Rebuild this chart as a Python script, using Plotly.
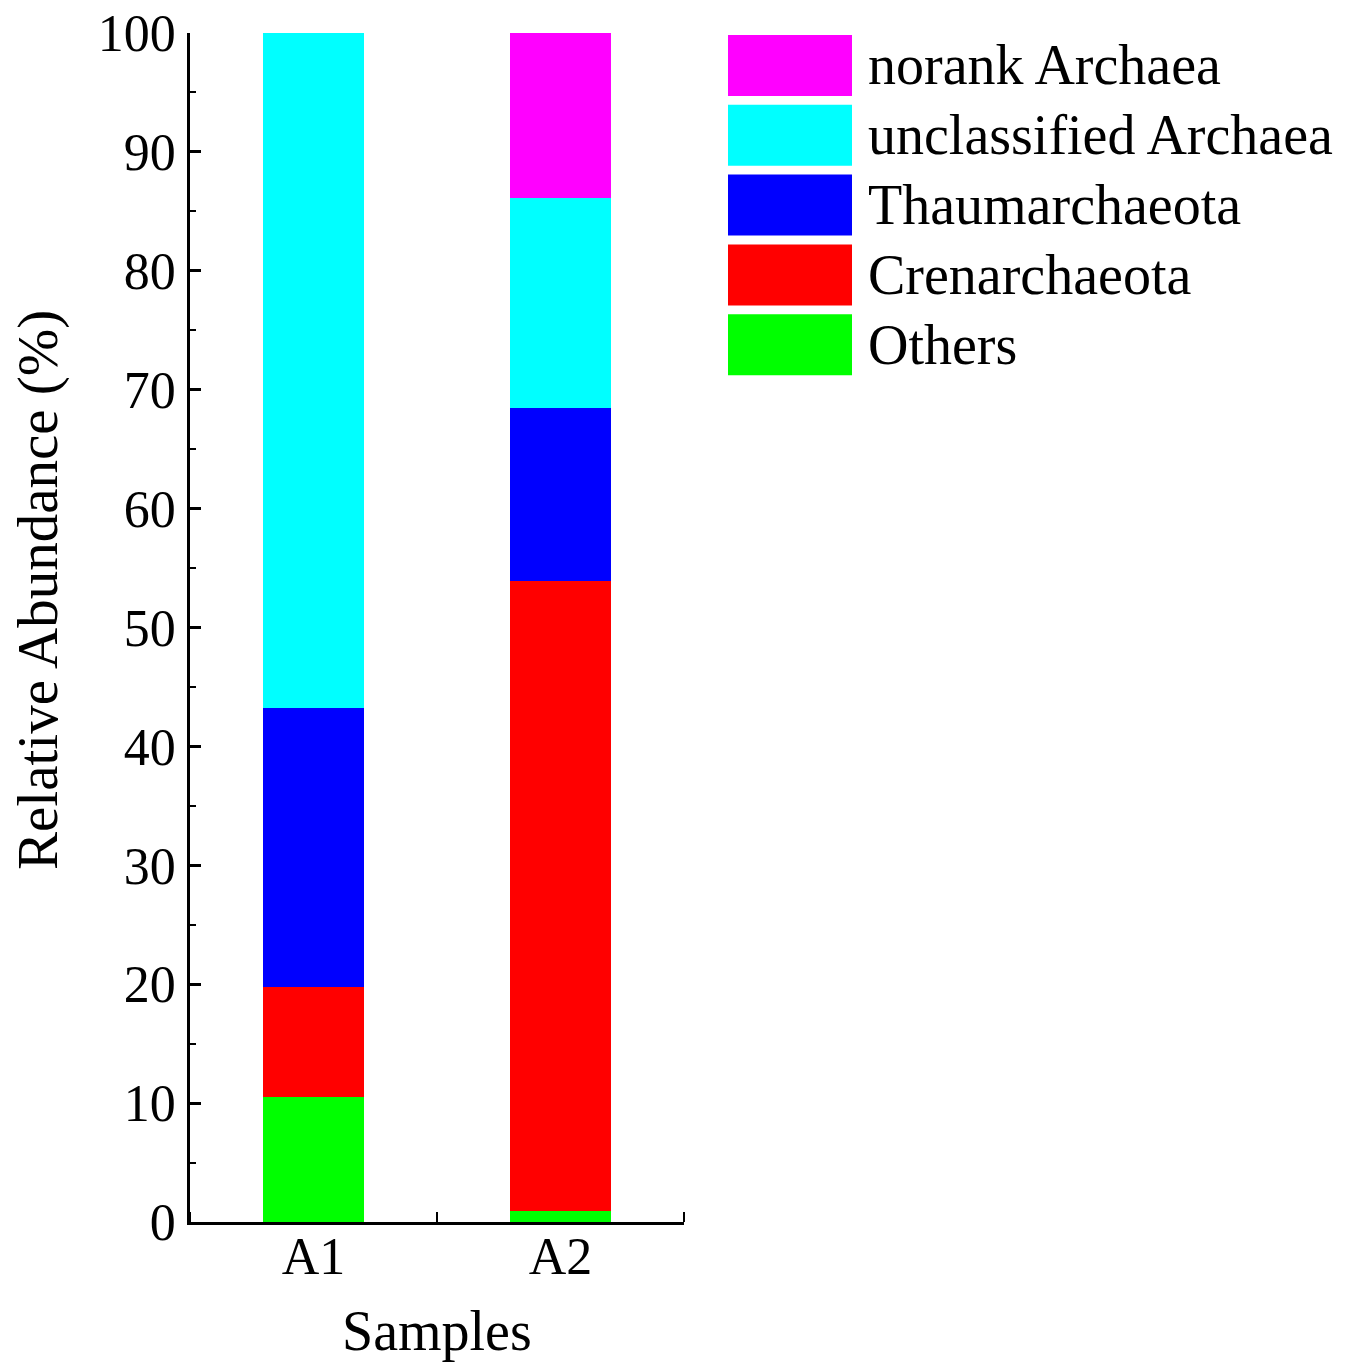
import plotly.graph_objects as go

# ---- data ----
samples = ["A1", "A2"]
series_names = ["Others", "Crenarchaeota", "Thaumarchaeota", "unclassified Archaea", "norank Archaea"]
series_colors = ["#00FF00", "#FF0000", "#0000FF", "#00FFFF", "#FF00FF"]
others = [10.5, 0.9]
crenarchaeota = [9.3, 53.0]
thaumarchaeota = [23.4, 14.6]
unclassified_archaea = [56.8, 17.6]
norank_archaea = [0.0, 13.9]
series_values = [others, crenarchaeota, thaumarchaeota, unclassified_archaea, norank_archaea]
y_ticks = [0, 10, 20, 30, 40, 50, 60, 70, 80, 90, 100]

# ---- layout geometry (pixels, page has an 8px body margin) ----
OFF = 8
W, H = 1353 - OFF, 1362 - OFF
L, R, T, B = 190 - OFF, 684 - OFF, 33 - OFF, 1222 - OFF
FONT = "Liberation Serif, Times New Roman, serif"

def px(x):
    return (x - OFF - L) / (R - L)

def py(y):
    return (B - (y - OFF)) / (B - T)

xpos = list(range(len(samples)))

fig = go.Figure()
for name, color, vals in zip(series_names, series_colors, series_values):
    fig.add_trace(go.Bar(
        x=xpos, y=vals, name=name, width=0.405,
        marker=dict(color=color, line=dict(width=0)),
        showlegend=False,
    ))

# custom legend (large swatches) in reverse stacking order
row_top = 35
row_step = 69.8
box_h = 61
for i, (name, color) in enumerate(zip(series_names[::-1], series_colors[::-1])):
    y0 = row_top + i * row_step
    fig.add_shape(type="rect", xref="paper", yref="paper",
                  x0=px(728), x1=px(852), y0=py(y0 + box_h), y1=py(y0),
                  fillcolor=color, line=dict(width=0))
    fig.add_annotation(xref="paper", yref="paper", x=px(866), y=py(y0 + box_h / 2),
                       text=name, showarrow=False, xanchor="left", yanchor="middle",
                       font=dict(family=FONT, size=56, color="black"))

# axis titles
fig.add_annotation(xref="paper", yref="paper", x=px(437), y=py(1331),
                   text="Samples", showarrow=False, xanchor="center", yanchor="middle",
                   font=dict(family=FONT, size=56, color="black"))
fig.add_annotation(xref="paper", yref="paper", x=px(38), y=py(590),
                   text="Relative Abundance (%)", showarrow=False, textangle=-90,
                   xanchor="center", yanchor="middle",
                   font=dict(family=FONT, size=57, color="black"))

fig.update_layout(
    width=W, height=H,
    margin=dict(l=L, r=W - R, t=T, b=H - B, pad=0),
    barmode="stack",
    plot_bgcolor="white", paper_bgcolor="white",
    font=dict(family=FONT, color="black"),
    xaxis=dict(
        range=[-0.5, 1.5], tickmode="array", tickvals=xpos, ticktext=samples,
        ticks="", showgrid=False, zeroline=False, automargin=False,
        showline=True, linecolor="black", linewidth=2.5, layer="below traces",
        tickfont=dict(family=FONT, size=52, color="black"),
        minor=dict(tickmode="array", tickvals=[-0.5, 0.5, 1.5], ticks="inside",
                   ticklen=10, tickwidth=2, tickcolor="black", showgrid=False),
        ticklabelstandoff=-13, ticklabeloverflow="allow",
    ),
    yaxis=dict(
        range=[0, 100], tickmode="array", tickvals=y_ticks,
        ticks="inside", ticklen=11, tickwidth=2.5, tickcolor="black",
        showgrid=False, zeroline=False, automargin=False,
        showline=True, linecolor="black", linewidth=2.5,
        tickfont=dict(family=FONT, size=52, color="black"),
        minor=dict(tick0=5, dtick=10, ticks="inside", ticklen=6, tickwidth=2,
                   tickcolor="black", showgrid=False),
        ticklabelstandoff=1, ticklabeloverflow="allow",
    ),
)

fig.write_html("out.html")
